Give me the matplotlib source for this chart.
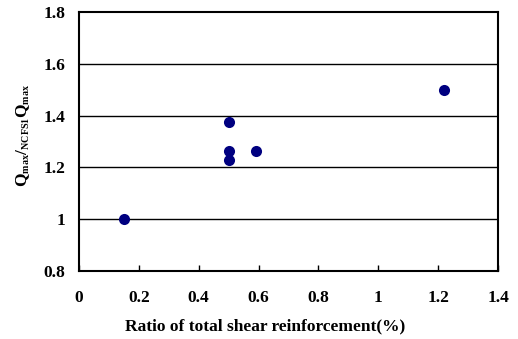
import matplotlib
matplotlib.use("Agg")
import matplotlib.pyplot as plt
import matplotlib._mathtext as mathtext_mod

# shear reinforcement ratio (%) vs normalised max shear
ratio = [0.15, 0.50, 0.50, 0.50, 0.59, 1.22]
q_norm = [1.00, 1.375, 1.265, 1.23, 1.265, 1.50]

x_ticks = [0, 0.2, 0.4, 0.6, 0.8, 1.0, 1.2, 1.4]
x_labels = ["0", "0.2", "0.4", "0.6", "0.8", "1", "1.2", "1.4"]
y_ticks = [0.8, 1.0, 1.2, 1.4, 1.6, 1.8]
y_labels = ["0.8", "1", "1.2", "1.4", "1.6", "1.8"]

plt.rcParams['font.family'] = 'Liberation Serif'
plt.rcParams['font.weight'] = 'bold'
plt.rcParams['mathtext.fontset'] = 'custom'
plt.rcParams['mathtext.rm'] = 'Liberation Serif:bold'
plt.rcParams['mathtext.bf'] = 'Liberation Serif:bold'
plt.rcParams['mathtext.it'] = 'Liberation Serif:bold'
# smaller subscripts in the y label
mathtext_mod.SHRINK_FACTOR = 0.58

fig = plt.figure(figsize=(5.18, 3.39), dpi=100)
ax = fig.add_axes([0.1525, 0.2006, 0.809, 0.764])

for yv in y_ticks[1:-1]:
    ax.axhline(yv, color="black", linewidth=1.0, zorder=1)

ax.plot(ratio, q_norm, "o", color="#000080", markersize=8, markeredgewidth=0, zorder=3)

ax.set_xlim(0, 1.4)
ax.set_ylim(0.8, 1.8)
ax.set_xticks(x_ticks)
ax.set_xticklabels(x_labels, fontsize=12.5, fontweight="bold")
ax.set_yticks(y_ticks)
ax.set_yticklabels(y_labels, fontsize=12.5, fontweight="bold")
ax.tick_params(axis="x", direction="in", length=4, width=1.0, pad=14)
ax.tick_params(axis="y", length=0, pad=10)
for s in ax.spines.values():
    s.set_linewidth(1.5)

ax.set_xlabel("Ratio of total shear reinforcement(%)", fontsize=12.5,
              fontweight="bold", labelpad=10)
ax.xaxis.set_label_coords(0.444, -0.183)
ax.set_ylabel(r"$\mathrm{Q_{max}/_{NCFS1}Q_{max}}$", fontsize=12.5)
ax.yaxis.set_label_coords(-0.112, 0.525)

fig.savefig("out.png", dpi=100)
